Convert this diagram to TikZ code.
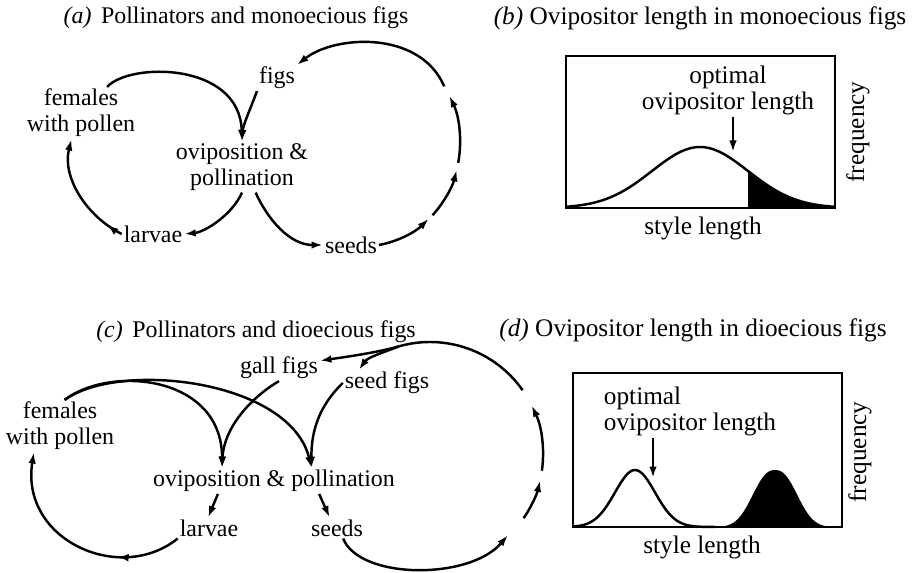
\documentclass[tikz,border=0pt]{standalone}
\usepackage{fontspec}
\setmainfont{Liberation Serif}
\usetikzlibrary{arrows.meta,calc,decorations.markings}

\begin{document}
\begin{tikzpicture}[x=0.02cm,y=-0.02cm,>={Latex[length=2.3mm,width=1.5mm]},
  font=\fontsize{13.6}{14.8}\selectfont,
  lbl/.style={inner sep=1pt,align=center},
  flow/.style={line width=1.4pt,->},
  ring/.style={line width=1.4pt},
  midtip/.style={postaction={decorate},
    decoration={markings,mark=at position #1 with {\arrow{>}}}},
  bell/.style={line width=1.4pt},
  plotbox/.style={line width=1.6pt}]
\useasboundingbox (0,0) rectangle (915,573);

\begin{scope}
\node[lbl] (titleA) at (236,18) {\textit{(a)}\hspace{0.4em}Pollinators and monoecious figs};
\node[lbl] (figsA) at (277,78) {figs};
\node[lbl] (femA) at (81,113) {females\\with pollen};
\node[lbl] (ovipA) at (242,167) {oviposition \&\\pollination};
\node[lbl] (larvA) at (153,234) {larvae};
\node[lbl] (seedA) at (351,245) {seeds};
\coordinate (cA) at (362,143);
\draw[flow] (femA.45) .. controls (130,62) and (240,62) .. (ovipA.north);
\draw[flow] (figsA.south west) .. controls (250,110) and (243,125) .. (ovipA.north);
\draw[flow] (ovipA.south) .. controls (232,215) and (205,232) .. (larvA.east);
\draw[flow,midtip=0.15] (larvA.west) .. controls (86,216) and (62,177) .. (femA.-110);
\draw[flow] (ovipA.-62) .. controls (268,220) and (290,245) .. (seedA.west);
\draw[flow] (seedA.east) arc[start angle=80,end angle=47,x radius=98,y radius=104];
\draw[flow] (cA) ++(44:98 and 104) arc[start angle=44,end angle=15,x radius=98,y radius=104];
\draw[flow] (cA) ++(11:98 and 104) arc[start angle=11,end angle=-27,x radius=98,y radius=104];
\draw[flow] (cA) ++(-33:98 and 104) .. controls (420,30) and (335,35) .. (figsA.north east);
\end{scope}

\begin{scope}[font=\fontsize{14.4}{14.8}\selectfont]
\node[lbl] (titleB) at (700,18) {\textit{(b)} Ovipositor length in monoecious figs};
\fill (748,208) -- plot[domain=748:835,samples=40] (\x,{208-61*exp(-0.5*pow((\x-700)/48,2))}) -- (835,208) -- cycle;
\draw[bell] plot[domain=566:835,samples=80] (\x,{208-61*exp(-0.5*pow((\x-700)/48,2))});
\draw[plotbox] (566,56) rectangle (835,208);
\node[lbl] (optB) at (728,90) {optimal\\ovipositor length};
\coordinate (tipB) at (733,152);
\draw[flow] (optB.south -| tipB) -- (tipB);
\node[lbl] (styleB) at (703,228) {style length};
\node[lbl,rotate=90] (freqB) at (858,132) {frequency};
\end{scope}

\begin{scope}
\node[lbl] (titleC) at (256,332) {\textit{(c)}\hspace{0.4em}Pollinators and dioecious figs};
\node[lbl] (gallC) at (279,368) {gall figs};
\node[lbl] (seedfC) at (387,383) {seed figs};
\node[lbl] (femC) at (60,426) {females\\with pollen};
\node[lbl] (ovipC) at (274,481) {oviposition \& pollination};
\node[lbl] (larvC) at (209,528) {larvae};
\node[lbl] (seedC) at (337,528) {seeds};
\coordinate (cC) at (430,455);
\draw[flow] (femC.80) .. controls (110,365) and (222,375) .. (ovipC.166);
\draw[flow] (femC.80) .. controls (120,360) and (290,380) .. (ovipC.19);
\draw[flow] (gallC.south) .. controls (255,395) and (224,425) .. (ovipC.166);
\draw[flow] (seedfC.west) .. controls (320,405) and (311,430) .. (ovipC.19);
\draw[flow] (ovipC.-167) -- (larvC.95);
\draw[flow] (ovipC.-16) -- (seedC.125);
\draw[flow,midtip=0.3] (larvC.south west) .. controls (120,585) and (20,540) .. (femC.-135);
\draw[flow] (seedC.-60) .. controls (360,580) and (470,580) .. (508,535);
\draw[flow] (cC) ++(34:113) arc[start angle=34,end angle=13,radius=113];
\draw[flow] (cC) ++(8:113) arc[start angle=8,end angle=-26,radius=113];
\draw[ring] (cC) ++(-35:113) arc[start angle=-35,end angle=-106,radius=113] coordinate (forkC);
\draw[flow] (forkC) .. controls (375,353) and (345,357) .. (gallC.10);
\draw[flow] (forkC) .. controls (385,352) and (368,357) .. (seedfC.155);
\end{scope}

\begin{scope}[font=\fontsize{14.4}{14.8}\selectfont]
\node[lbl] (titleD) at (693,330) {\textit{(d)} Ovipositor length in dioecious figs};
\fill plot[domain=705:842,samples=60] (\x,{527-57*exp(-0.5*pow(abs((\x-775)/21),2.4))}) -- cycle;
\draw[bell] plot[domain=573:715,samples=60] (\x,{527-57*exp(-0.5*pow((\x-635)/20,2))});
\draw[plotbox] (573,373) rectangle (842,527);
\node[lbl,align=left] (optD) at (690,411) {optimal\\ovipositor length};
\coordinate (tipD) at (653,478);
\draw[flow] (optD.south -| tipD) -- (tipD);
\node[lbl] (styleD) at (702,547) {style length};
\node[lbl,rotate=90] (freqD) at (860,452) {frequency};
\end{scope}
\end{tikzpicture}
\end{document}
